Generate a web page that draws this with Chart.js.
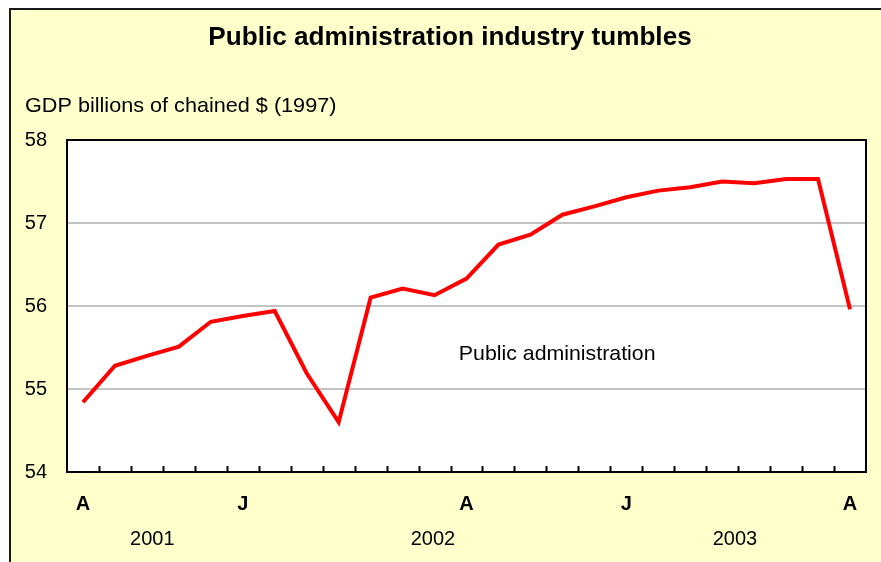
<!DOCTYPE html>
<html><head><meta charset="utf-8">
<script src="https://cdn.jsdelivr.net/npm/chart.js@4"></script>
<style>html,body{margin:0;padding:0;background:#fff;}#wrap{width:881px;height:562px;position:relative}</style>
</head><body><div id="wrap"><canvas id="c" width="881" height="562"></canvas></div>
<script>
const chartTitle = 'Public administration industry tumbles';
const yAxisTitle = 'GDP billions of chained $ (1997)';
const seriesName = 'Public administration';
const tickLabels = ['A','','','','','J','','','','','','','A','','','','','J','','','','','','','A'];
const gdp = [54.84, 55.28, 55.40, 55.51, 55.81, 55.88, 55.94, 55.19, 54.60, 56.10, 56.21, 56.13, 56.33,
             56.74, 56.86, 57.10, 57.20, 57.31, 57.39, 57.43, 57.50, 57.48, 57.53, 57.53, 55.96];
const yearLabels = ['2001', '2002', '2003'];
const yearCenters = [2.17, 10.95, 20.4];
const seriesLabelPos = [11.76, 55.42];
const yTicks = [54, 55, 56, 57, 58];

const FONT = "'Liberation Sans', Arial, sans-serif";

function stretchText(ctx, text, x, y, sx) {
  ctx.save();
  ctx.translate(x, y);
  ctx.scale(sx, 1);
  ctx.fillText(text, 0, 0);
  ctx.restore();
}

const decor = {
  id: 'decor',
  beforeDraw(chart) {
    const ctx = chart.ctx, a = chart.chartArea;
    ctx.save();
    ctx.fillStyle = '#ffffff';
    ctx.fillRect(0, 0, chart.width, chart.height);
    ctx.fillStyle = '#FFFFCC';
    ctx.fillRect(10, 9, chart.width, chart.height);
    ctx.strokeStyle = '#1a1a1a';
    ctx.lineWidth = 2;
    ctx.beginPath();
    ctx.moveTo(10, chart.height); ctx.lineTo(10, 9); ctx.lineTo(chart.width, 9);
    ctx.stroke();
    ctx.fillStyle = '#ffffff';
    ctx.fillRect(a.left, a.top, a.right - a.left, a.bottom - a.top);
    ctx.fillStyle = '#000';
    ctx.font = 'bold 25px ' + FONT;
    ctx.textAlign = 'center'; ctx.textBaseline = 'alphabetic';
    stretchText(ctx, chartTitle, 450, 45, 1.045);
    ctx.font = '21px ' + FONT;
    ctx.textAlign = 'left';
    stretchText(ctx, yAxisTitle, 25, 112, 1.03);
    ctx.restore();
  },
  afterDatasetsDraw(chart) {
    const ctx = chart.ctx, a = chart.chartArea, xs = chart.scales.x, ys = chart.scales.y;
    ctx.save();
    ctx.strokeStyle = '#000';
    ctx.lineWidth = 2;
    ctx.strokeRect(a.left, a.top, a.right - a.left, a.bottom - a.top);
    ctx.beginPath();
    for (let i = 1; i < tickLabels.length; i++) {
      const x = Math.round((xs.getPixelForValue(i - 1) + xs.getPixelForValue(i)) / 2) + 0.5;
      ctx.moveTo(x, a.bottom); ctx.lineTo(x, a.bottom - 6);
    }
    ctx.stroke();
    const step = xs.getPixelForValue(1) - xs.getPixelForValue(0);
    const x0 = xs.getPixelForValue(0);
    ctx.fillStyle = '#000';
    ctx.font = '20px ' + FONT;
    ctx.textAlign = 'center'; ctx.textBaseline = 'alphabetic';
    yearLabels.forEach((t, i) => ctx.fillText(t, x0 + yearCenters[i] * step, 545));
    ctx.font = '21px ' + FONT;
    ctx.textAlign = 'left'; ctx.textBaseline = 'middle';
    stretchText(ctx, seriesName, x0 + seriesLabelPos[0] * step, ys.getPixelForValue(seriesLabelPos[1]), 1.015);
    ctx.restore();
  }
};

new Chart(document.getElementById('c'), {
  type: 'line',
  data: {
    labels: tickLabels,
    datasets: [{
      label: seriesName,
      data: gdp,
      borderColor: '#FF0000',
      borderWidth: 4,
      pointRadius: 0,
      tension: 0,
      fill: false,
      borderJoinStyle: 'miter'
    }]
  },
  options: {
    responsive: false,
    animation: false,
    devicePixelRatio: 1,
    layout: { padding: { left: 0, right: 15, top: 140, bottom: 0 } },
    plugins: { legend: { display: false }, tooltip: { enabled: false }, title: { display: false } },
    scales: {
      x: {
        offset: true,
        grid: { display: false, drawTicks: false },
        border: { display: false },
        ticks: {
          autoSkip: false, maxRotation: 0, minRotation: 0, padding: 20,
          color: '#000', font: { family: FONT, size: 20, weight: 'bold' },
          callback: (v, i) => tickLabels[i]
        },
        afterFit: s => { s.height = 90; }
      },
      y: {
        min: 54, max: 58,
        afterBuildTicks: s => { s.ticks = yTicks.map(v => ({ value: v })); },
        grid: { color: '#c4c4c4', lineWidth: 2, drawTicks: false },
        border: { display: false },
        ticks: { padding: 20, color: '#000', font: { family: FONT, size: 20 } },
        afterFit: s => { s.width = 67; }
      }
    }
  },
  plugins: [decor]
});
</script>
</body></html>
